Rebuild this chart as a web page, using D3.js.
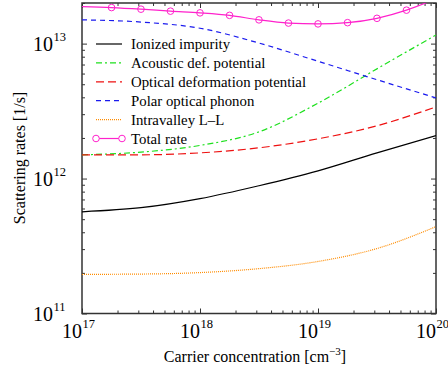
<!DOCTYPE html>
<html>
<head>
<meta charset="utf-8">
<script src="https://d3js.org/d3.v7.min.js"></script>
<style>
  body { margin: 0; background: #fff; }
  text { font-family: "Liberation Serif", "Times New Roman", serif; fill: #000; }
</style>
</head>
<body>
<script>
// carrier concentrations (half decades) and the rates, 1/s
var conc = [1e17, 3.16e17, 1e18, 3.16e18, 1e19, 3.16e19, 1e20]
var ionized = [5.67e11, 6.08e11, 7.1e11, 8.85e11, 1.14e12, 1.55e12, 2.08e12]
var acoustic = [1.50e12, 1.57e12, 1.76e12, 2.22e12, 3.62e12, 6.5e12, 1.16e13]
var optical = [1.50e12, 1.50e12, 1.55e12, 1.69e12, 1.97e12, 2.46e12, 3.40e12]
var polar = [1.50e13, 1.445e13, 1.30e13, 1.01e13, 7.4e12, 5.4e12, 3.96e12]
var intravalley = [1.95e11, 1.96e11, 2.01e11, 2.15e11, 2.43e11, 3.03e11, 4.4e11]

// total rate is sampled every quarter decade (the circles)
var concTotal = [1e17, 1.78e17, 3.16e17, 5.62e17, 1e18, 1.78e18, 3.16e18, 5.62e18,
                 1e19, 1.78e19, 3.16e19, 5.62e19, 1e20]
var total = [1.88e13, 1.85e13, 1.80e13, 1.74e13, 1.69e13, 1.62e13, 1.50e13, 1.42e13,
             1.40e13, 1.43e13, 1.54e13, 1.77e13, 2.15e13]

var xMajor = [1e17, 1e18, 1e19, 1e20]
var yMajor = [1e11, 1e12, 1e13];

(function () {
  var series = [
    {name: "Ionized impurity", values: ionized, color: "#000000", dash: null},
    {name: "Acoustic def. potential", values: acoustic, color: "#1ee01e", dash: "6,3,2,3"},
    {name: "Optical deformation potential", values: optical, color: "#ee1111", dash: "8,4"},
    {name: "Polar optical phonon", values: polar, color: "#1a1aee", dash: "5,4"},
    {name: "Intravalley L\u2013L", values: intravalley, color: "#ff8c00", dash: "1,1"}
  ]

  var width = 448, height = 376
  var pl = 82, pr = 436, pt = 3, pb = 313.5

  var svg = d3.select("body").append("svg")
      .attr("width", width)
      .attr("height", height)

  var x = d3.scaleLog().domain([1e17, 1e20]).range([pl, pr])
  var y = d3.scaleLog().domain([1e11, 2e13]).range([pb, pt])

  function minors(lo, hi) {
    var out = []
    for (var e = lo; e < hi; e++)
      for (var k = 2; k <= 9; k++) out.push(k * Math.pow(10, e))
    return out
  }
  var xMinor = minors(17, 20)
  var yMinor = minors(11, 14).filter(function(v) { return v <= 2.0001e13 })

  svg.append("clipPath").attr("id", "plot")
    .append("rect")
      .attr("x", pl).attr("y", pt)
      .attr("width", pr - pl).attr("height", pb - pt)

  // ticks on all four sides, pointing in
  function tickAxis(axis, at, values, size) {
    svg.append("g")
        .attr("transform", at)
        .call(axis.tickValues(values).tickSizeInner(-size).tickSizeOuter(0).tickFormat(""))
        .call(function(g) {
          g.select(".domain").remove()
          g.selectAll("line").attr("stroke", "#333").attr("stroke-width", 1)
        })
  }
  tickAxis(d3.axisBottom(x), "translate(0," + pb + ")", xMajor, 5)
  tickAxis(d3.axisBottom(x), "translate(0," + pb + ")", xMinor, 3)
  tickAxis(d3.axisTop(x), "translate(0," + pt + ")", xMajor, 5)
  tickAxis(d3.axisTop(x), "translate(0," + pt + ")", xMinor, 3)
  tickAxis(d3.axisLeft(y), "translate(" + pl + ",0)", yMajor, 5)
  tickAxis(d3.axisLeft(y), "translate(" + pl + ",0)", yMinor, 3)
  tickAxis(d3.axisRight(y), "translate(" + pr + ",0)", yMajor, 5)
  tickAxis(d3.axisRight(y), "translate(" + pr + ",0)", yMinor, 3)

  svg.append("rect")
      .attr("x", pl).attr("y", pt)
      .attr("width", pr - pl).attr("height", pb - pt)
      .attr("fill", "none")
      .attr("stroke", "#333")
      .attr("stroke-width", 1.5)

  // tick labels as 10 with a superscript exponent
  var xl = svg.append("g").selectAll("g").data(xMajor).enter().append("g")
  xl.append("text")
      .attr("x", function(d) { return x(d) })
      .attr("y", 338)
      .attr("text-anchor", "end")
      .attr("font-size", 20)
      .text("10")
  xl.append("text")
      .attr("x", function(d) { return x(d) + 0.5 })
      .attr("y", 328)
      .attr("font-size", 12.5)
      .text(function(d) { return Math.round(Math.log10(d)) })

  var yl = svg.append("g").selectAll("g").data(yMajor).enter().append("g")
  yl.append("text")
      .attr("x", 53)
      .attr("y", function(d) { return y(d) + 7 })
      .attr("text-anchor", "end")
      .attr("font-size", 20)
      .text("10")
  yl.append("text")
      .attr("x", 53.5)
      .attr("y", function(d) { return y(d) - 3 })
      .attr("font-size", 12.5)
      .text(function(d) { return Math.round(Math.log10(d)) })

  // axis titles
  var xt = svg.append("text")
      .attr("x", 255)
      .attr("y", 362)
      .attr("text-anchor", "middle")
      .attr("font-size", 16)
  xt.append("tspan").text("Carrier concentration [cm")
  xt.append("tspan").attr("dy", -7).attr("font-size", 11).text("\u22123")
  xt.append("tspan").attr("dy", 7).text("]")

  svg.append("text")
      .attr("transform", "translate(25,158) rotate(-90)")
      .attr("text-anchor", "middle")
      .attr("font-size", 16)
      .text("Scattering rates [1/s]")

  // curves
  var plot = svg.append("g").attr("clip-path", "url(#plot)")

  var line = d3.line()
      .x(function(d) { return x(d[0]) })
      .y(function(d) { return y(d[1]) })
      .curve(d3.curveMonotoneX)

  plot.selectAll("path.rate")
    .data(series)
    .enter().append("path")
      .attr("class", "rate")
      .attr("d", function(s) { return line(d3.zip(conc, s.values)) })
      .attr("fill", "none")
      .attr("stroke", function(s) { return s.color })
      .attr("stroke-width", 1.2)
      .attr("stroke-dasharray", function(s) { return s.dash })

  var totalPts = d3.zip(concTotal, total)
  var pink = "#ff22cc"
  plot.append("path")
      .attr("d", line(totalPts))
      .attr("fill", "none")
      .attr("stroke", pink)
      .attr("stroke-width", 1.2)

  plot.selectAll("circle")
    .data(totalPts.slice(1, -1))
    .enter().append("circle")
      .attr("cx", function(d) { return x(d[0]) })
      .attr("cy", function(d) { return y(d[1]) })
      .attr("r", 3.3)
      .attr("fill", "none")
      .attr("stroke", pink)
      .attr("stroke-width", 1)

  // legend
  var entries = series.concat([{name: "Total rate", color: pink, dash: null, marker: true}])

  var row = svg.append("g").selectAll("g").data(entries).enter().append("g")
      .attr("transform", function(d, i) { return "translate(0," + (44 + i * 18.9) + ")" })
  row.append("line")
      .attr("x1", 96).attr("x2", 122)
      .attr("stroke", function(d) { return d.color })
      .attr("stroke-width", 1.2)
      .attr("stroke-dasharray", function(d) { return d.dash })
  row.filter(function(d) { return d.marker }).selectAll("circle")
    .data([96, 122])
    .enter().append("circle")
      .attr("cx", function(d) { return d })
      .attr("r", 3.3)
      .attr("fill", "#fff")
      .attr("stroke", pink)
  row.append("text")
      .attr("x", 131)
      .attr("y", 5)
      .attr("font-size", 14.8)
      .text(function(d) { return d.name })
})()
</script>
</body>
</html>
